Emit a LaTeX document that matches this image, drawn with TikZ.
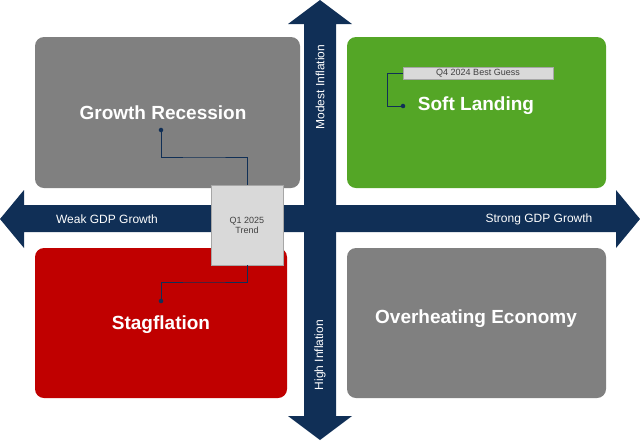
\documentclass[tikz,border=0pt]{standalone}
\usepackage{fontspec}
\setmainfont{Liberation Sans}
\definecolor{navy}{RGB}{16,47,86}
\definecolor{quadgray}{RGB}{128,128,128}
\definecolor{quadgreen}{RGB}{84,166,38}
\definecolor{quadred}{RGB}{192,0,0}
\definecolor{tagfill}{RGB}{217,217,217}
\tikzset{
  quad/.style={rounded corners=9pt, draw=none},
  quadtext/.style={text=white, font=\bfseries\fontsize{19}{22}\selectfont},
  axistext/.style={text=white, font=\fontsize{12}{14}\selectfont},
  tag/.style={fill=tagfill, draw=gray!70, font=\fontsize{9}{10}\selectfont, text=black!75},
  lead/.style={navy, line width=0.6pt},
  dot/.style={circle, fill=navy, inner sep=1.6pt}
}
\begin{document}
\begin{tikzpicture}[x=1pt, y=-1pt]
  \useasboundingbox (0,0) rectangle (640,440);
  % quadrants
  \fill[quad, quadgray] (35,37) rectangle (300,188);
  \fill[quad, quadgreen] (347,37) rectangle (606,188);
  \fill[quad, quadred] (35,248) rectangle (287,398);
  \fill[quad, quadgray] (347,248) rectangle (606,398);
  % axes
  \fill[navy] (0,219) -- (24,190) -- (24,205) -- (616,205) -- (616,190) -- (640,219)
    -- (616,248) -- (616,232) -- (24,232) -- (24,248) -- cycle;
  \fill[navy] (320,0) -- (352,24) -- (336,24) -- (336,416) -- (352,416) -- (320,440)
    -- (288,416) -- (304,416) -- (304,24) -- (288,24) -- cycle;
  \node[axistext] (weak) at (107,219) {Weak GDP Growth};
  \node[axistext] (strong) at (539,219) {Strong GDP Growth};
  \node[axistext, rotate=90] (modest) at (320,87) {Modest Inflation};
  \node[axistext, rotate=90] (high) at (320,355) {High Inflation};
  % quadrant titles
  \node[quadtext] (recession) at (163,113) {Growth Recession};
  \node[quadtext] (soft) at (476,106) {Soft Landing};
  \node[quadtext] (stag) at (161,325) {Stagflation};
  \node[quadtext] (overheat) at (476,319) {Overheating Economy};
  % trend markers
  \node[tag, minimum width=72pt, minimum height=80pt, align=center] (trend) at (247,225) {Q1 2025\\Trend};
  \node[dot] (dotrec) at (161,130) {};
  \node[dot] (dotstag) at (161,301) {};
  \draw[lead] (trend.north) |- (204,157) -| (dotrec);
  \draw[lead] (trend.south) |- (204,282) -| (dotstag);
  \node[tag, minimum width=150pt, minimum height=12pt, inner sep=0pt] (guess) at (478,73) {Q4 2024 Best Guess};
  \node[dot] (dotsoft) at (403,106) {};
  \draw[lead] (guess.west) -- (387,73) |- (dotsoft);
\end{tikzpicture}
\end{document}
